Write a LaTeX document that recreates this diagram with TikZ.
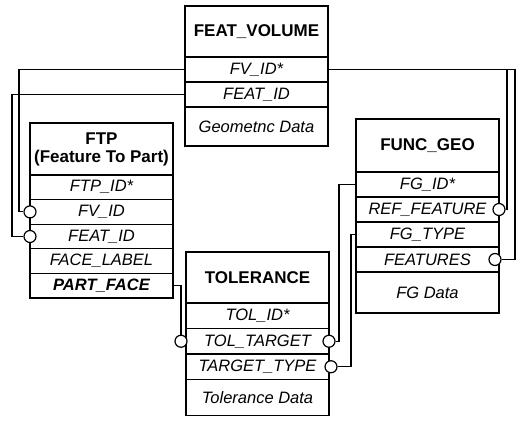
\documentclass[tikz,border=0pt]{standalone}
\usepackage{fontspec}
\setmainfont{Liberation Sans}
\usetikzlibrary{positioning}

\begin{document}
\begin{tikzpicture}[x=1pt, y=-1pt, line width=1.2pt]
  % table cells: bold header, italic field rows, round key ports
  \tikzset{
    head/.style={draw, minimum width=143pt, inner sep=0pt, outer sep=0pt, align=center,
      font=\fontsize{17}{18}\selectfont\bfseries},
    field/.style={draw, minimum width=143pt, minimum height=25pt, inner sep=0pt,
      outer sep=0pt, font=\fontsize{16.5}{18}\selectfont\itshape},
    port/.style={draw, circle, fill=white, minimum size=12pt, inner sep=0pt},
    link/.style={line width=1.2pt},
  }
  \useasboundingbox (0,0) rectangle (522,422);

  % FEAT_VOLUME
  \node[head, minimum height=51pt, anchor=north west] (fv) at (185,6) {FEAT\_VOLUME};
  \foreach \id/\txt [remember=\id as \last (initially fv)] in
    {fv-id/FV\_ID*, fv-feat/FEAT\_ID}
    \node[field, below=0pt of \last] (\id) {\txt};
  \node[field, minimum height=39pt, below=0pt of fv-feat] (fv-data) {Geometnc Data};

  % FTP
  \node[head, minimum height=52pt, anchor=north west] (ftp) at (30,123)
    {FTP\\(Feature To Part)};
  \foreach \id/\txt [remember=\id as \last (initially ftp)] in
    {ftp-id/FTP\_ID*, ftp-fv/FV\_ID, ftp-feat/FEAT\_ID, ftp-fl/FACE\_LABEL}
    \node[field, minimum height=24.6pt, below=0pt of \last] (\id) {\txt};
  \node[field, minimum height=24.6pt, below=0pt of ftp-fl, font=\fontsize{16.5}{18}\selectfont\bfseries\itshape]
    (ftp-pf) {PART\_FACE};

  % TOLERANCE
  \node[head, minimum height=51pt, anchor=north west] (tol) at (186,252) {TOLERANCE};
  \foreach \id/\txt [remember=\id as \last (initially tol)] in
    {tol-id/TOL\_ID*, tol-tt/TOL\_TARGET, tol-ty/TARGET\_TYPE}
    \node[field, minimum height=25.5pt, below=0pt of \last] (\id) {\txt};
  \node[field, minimum height=36pt, below=0pt of tol-ty] (tol-data) {Tolerance Data};

  % FUNC_GEO
  \node[head, minimum height=53pt, anchor=north west] (fg) at (356,119) {FUNC\_GEO};
  \foreach \id/\txt [remember=\id as \last (initially fg)] in
    {fg-id/FG\_ID*, fg-ref/REF\_FEATURE, fg-ty/FG\_TYPE, fg-feats/FEATURES}
    \node[field, below=0pt of \last] (\id) {\txt};
  \node[field, minimum height=41pt, below=0pt of fg-feats] (fg-data) {FG Data};

  % ports on the referencing fields
  \node[port] (ftp-fv-p) at (ftp-fv.west) {};
  \node[port] (ftp-feat-p) at (ftp-feat.west) {};
  \node[port, xshift=-5pt] (tol-tt-pl) at (tol-tt.west) {};
  \node[port] (tol-tt-pr) at (tol-tt.east) {};
  \node[port, xshift=2pt] (tol-ty-pr) at (tol-ty.east) {};
  \node[port] (fg-ref-p) at (fg-ref.east) {};
  \node[port, xshift=-4pt] (fg-feats-p) at (fg-feats.east) {};

  % routing lanes
  \coordinate (lane-fv) at (19,0);
  \coordinate (lane-feat) at (12,0);
  \coordinate (lane-fgid) at (339,0);
  \coordinate (lane-fgty) at (351,0);
  \coordinate (lane-ref) at (507,0);
  \coordinate (lane-feats) at (515,0);

  % links
  \draw[link] (fv-id.west) -- (fv-id.west -| lane-fv) |- (ftp-fv-p);
  \draw[link] (fv-feat.west) -- (fv-feat.west -| lane-feat) |- (ftp-feat-p);
  \draw[link] (fv-id.east) -- (fv-id.east -| lane-ref) |- (fg-ref-p);
  \draw[link] (fv-id.east) -- (fv-id.east -| lane-feats) |- (fg-feats-p);
  \draw[link] (ftp-pf.east) -| (tol-tt-pl);
  \draw[link] (fg-id.west) -- (fg-id.west -| lane-fgid) |- (tol-tt-pr);
  \draw[link] (fg-ty.west) -- (fg-ty.west -| lane-fgty) |- (tol-ty-pr);
\end{tikzpicture}
\end{document}
